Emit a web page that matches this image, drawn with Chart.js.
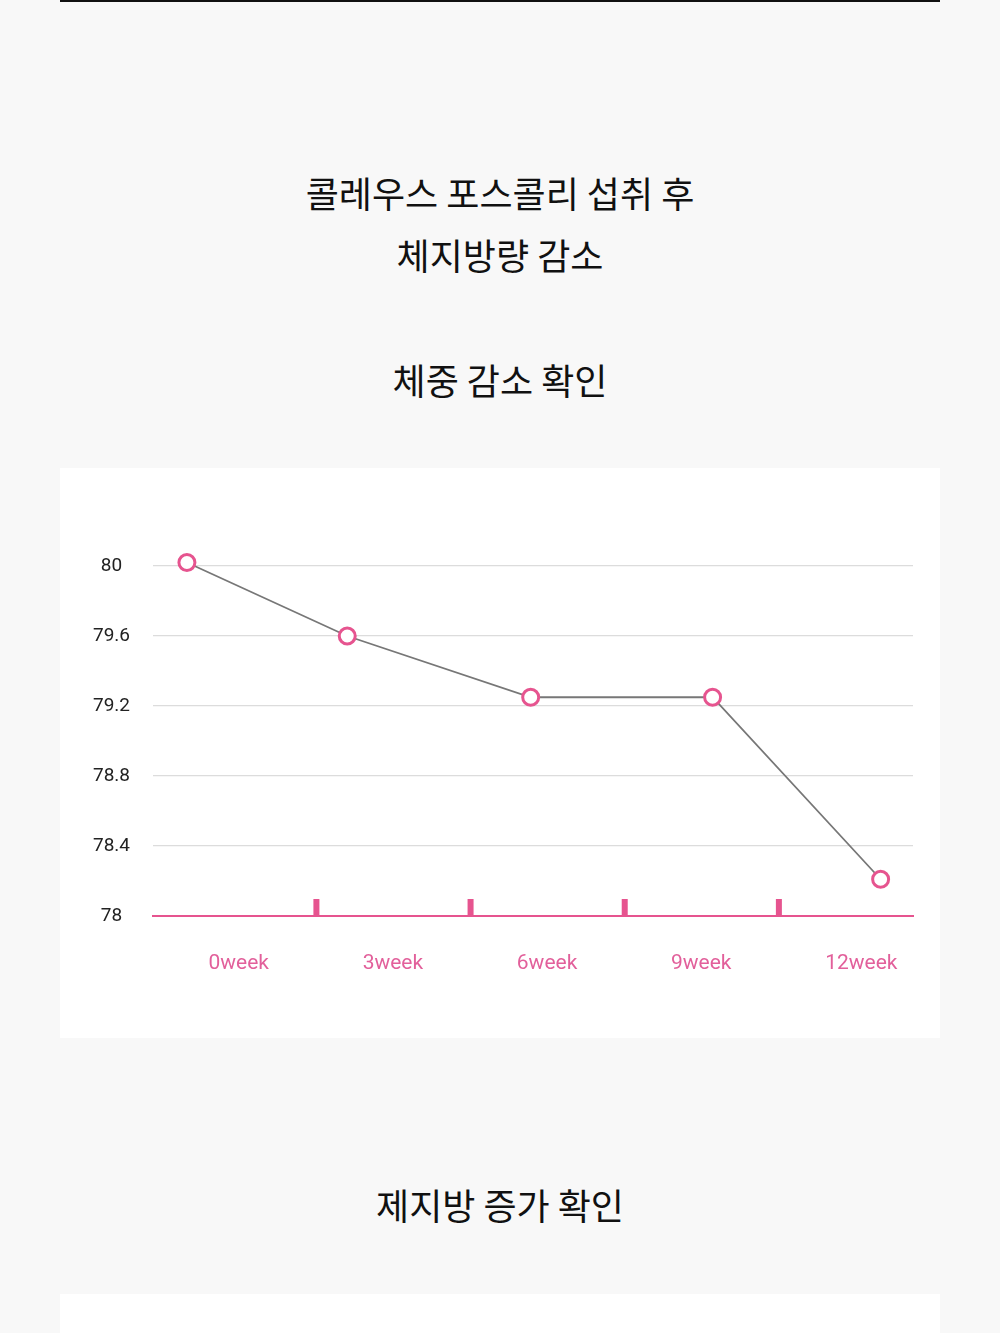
<!DOCTYPE html>
<html><head><meta charset="utf-8">
<script src="https://cdn.jsdelivr.net/npm/chart.js@4"></script>
<style>
html,body{margin:0;padding:0;background:#f8f8f8;width:1000px;height:1333px;overflow:hidden;}
.topline{position:absolute;left:60px;top:0;width:880px;height:2px;background:#111;}
.t{position:absolute;left:0;width:1000px;text-align:center;font-family:"Noto Sans CJK KR";font-size:36px;color:#111;line-height:62px;}
.panel{position:absolute;left:60px;width:880px;background:#fff;}
canvas{display:block;}
</style></head><body>
<div class="topline"></div>
<div class="t" style="top:161px">콜레우스 포스콜리 섭취 후<br>체지방량 감소</div>
<div class="t" style="top:348px">체중 감소 확인</div>
<div class="panel" style="top:468px;height:570px"><canvas id="c" width="880" height="570"></canvas></div>
<div class="t" style="top:1173px">제지방 증가 확인</div>
<div class="panel" style="top:1294px;height:39px"></div>
<script>
// data
const weekLabels = ['0week', '3week', '6week', '9week', '12week'];
const pointPos = [0.16, 1.20, 2.39, 3.57, 4.66];
const weightKg = [80.02, 79.6, 79.25, 79.25, 78.21];
const yTickValues = [78, 78.4, 78.8, 79.2, 79.6, 80];
const labelPos = [0.3, 1.3, 2.3, 3.3, 4.3];
const dividerPos = [1, 2, 3, 4];

const PINK = '#e6548f';
const LABEL_PINK = '#e2609b';

const dividerPlugin = {
  id: 'dividers',
  afterDraw(chart) {
    const xs = chart.scales.x, ys = chart.scales.y, ctx = chart.ctx;
    const base = ys.getPixelForValue(78);
    ctx.save();
    ctx.fillStyle = PINK;
    dividerPos.forEach(v => {
      const px = xs.getPixelForValue(v);
      ctx.fillRect(px - 3, base - 17, 6, 17);
    });
    ctx.restore();
  }
};

new Chart(document.getElementById('c'), {
  type: 'line',
  data: {
    datasets: [{
      data: pointPos.map((x, i) => ({x: x, y: weightKg[i]})),
      borderColor: '#777',
      borderWidth: 1.8,
      pointRadius: 8,
      pointBorderWidth: 3,
      pointBackgroundColor: '#fff',
      pointBorderColor: PINK,
      tension: 0,
      clip: false
    }]
  },
  options: {
    responsive: false,
    animation: false,
    layout: {padding: {left: 0, right: 27, top: 98, bottom: 0}},
    plugins: {legend: {display: false}, tooltip: {enabled: false}},
    scales: {
      x: {
        type: 'linear', min: -0.06, max: 4.87,
        afterBuildTicks: s => { s.ticks = labelPos.map(v => ({value: v})); },
        afterFit: s => { s.height = 122; },
        grid: {display: true, drawOnChartArea: false, drawTicks: false, color: 'rgba(0,0,0,0)'},
        border: {display: true, color: PINK, width: 2},
        ticks: {
          align: 'start', padding: 35, color: LABEL_PINK, maxRotation: 0, autoSkip: false,
          font: {family: 'Roboto', size: 21},
          callback: (v, i) => weekLabels[i]
        }
      },
      y: {
        min: 78, max: 80,
        afterBuildTicks: s => { s.ticks = yTickValues.map(v => ({value: v})); },
        afterFit: s => { s.width = 93; },
        grid: {drawTicks: false, lineWidth: 1.2, color: c => (c.tick && c.tick.value === 78) ? 'rgba(0,0,0,0)' : '#dcdcdc'},
        border: {display: false},
        ticks: {
          crossAlign: 'center', padding: 23, color: '#222',
          font: {family: 'Roboto', size: 19},
          callback: v => String(v)
        }
      }
    }
  },
  plugins: [dividerPlugin]
});
</script>
</body></html>
